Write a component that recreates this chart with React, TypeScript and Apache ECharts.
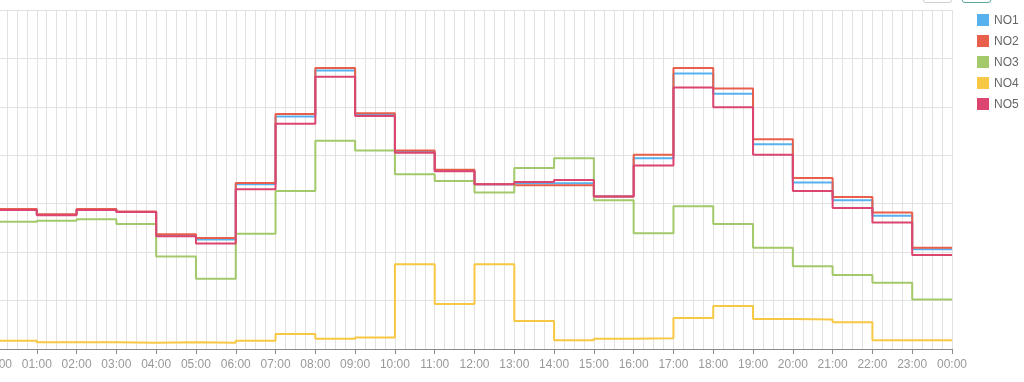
import React, { useEffect, useRef } from "react";
import * as echarts from "echarts";

const hours = [0, 1, 2, 3, 4, 5, 6, 7, 8, 9, 10, 11, 12, 13, 14, 15, 16, 17, 18, 19, 20, 21, 22, 23, 24];

const seriesNames = ["NO1", "NO2", "NO3", "NO4", "NO5"];
const seriesColors = ["#58b1ef", "#e8604c", "#a3c96a", "#f7c844", "#dc4570"];

const no1 = [28.8, 27.7, 28.8, 28.3, 23.5, 22.6, 34.0, 48.0, 57.5, 48.5, 40.7, 36.8, 34.0, 34.2, 34.2, 31.5, 39.4, 56.9, 52.7, 42.3, 34.4, 30.7, 27.5, 20.6];
const no2 = [28.9, 27.8, 28.9, 28.4, 23.7, 22.9, 34.3, 48.5, 58.0, 48.7, 41.0, 37.0, 34.0, 33.8, 33.8, 31.5, 40.1, 58.0, 53.8, 43.3, 35.3, 31.4, 28.2, 20.9];
const no3 = [26.3, 26.5, 26.8, 25.8, 19.1, 14.5, 23.8, 32.6, 43.0, 41.0, 36.1, 34.7, 32.3, 37.4, 39.4, 30.7, 23.9, 29.5, 25.8, 20.9, 17.1, 15.3, 13.7, 10.2];
const no4 = [1.7, 1.4, 1.4, 1.3, 1.4, 1.3, 1.7, 3.1, 2.1, 2.4, 17.5, 9.3, 17.5, 5.8, 1.8, 2.1, 2.2, 6.4, 8.9, 6.2, 6.1, 5.5, 1.8, 1.8];
const no5 = [28.7, 27.6, 28.7, 28.3, 23.3, 21.8, 33.0, 46.5, 56.2, 48.1, 40.5, 36.7, 34.0, 34.5, 34.9, 31.5, 37.9, 54.0, 49.9, 40.1, 32.6, 29.1, 26.1, 19.4];

const allValues = [no1, no2, no3, no4, no5];

function toSteps(values: number[]) {
  return hours.map((h, i) => [h, values[Math.min(i, values.length - 1)]]);
}

export default function App() {
  const ref = useRef<HTMLDivElement>(null);
  useEffect(() => {
    if (!ref.current) return;
    const chart = echarts.init(ref.current, undefined, { renderer: "svg" });
    chart.setOption({
      animation: false,
      textStyle: { fontFamily: "'Liberation Sans', Arial, sans-serif" },
      color: seriesColors,
      grid: {
        left: -3,
        right: 72,
        top: 10,
        bottom: 33,
        containLabel: false,
        outerBoundsMode: "none",
      },
      legend: {
        orient: "vertical",
        left: 972,
        top: 9,
        itemWidth: 12,
        itemHeight: 12,
        itemGap: 9,
        icon: "rect",
        textStyle: { color: "#666", fontSize: 12 },
        data: seriesNames,
      },
      graphic: [
        {
          type: "rect",
          shape: { x: 923, y: -20, width: 29, height: 22.5, r: 3 },
          style: { fill: "#fff", stroke: "#d0d0d0", lineWidth: 1 },
        },
        {
          type: "rect",
          shape: { x: 962, y: -20, width: 29, height: 22.5, r: 3 },
          style: { fill: "#fff", stroke: "#5aa89b", lineWidth: 1 },
        },
      ],
      xAxis: {
        type: "value",
        min: 0,
        max: 24,
        interval: 1,
        axisLine: { show: true, lineStyle: { color: "#8a8a8a" } },
        axisTick: { show: true, length: 5, lineStyle: { color: "#8a8a8a" } },
        axisLabel: {
          color: "#999",
          fontSize: 12,
          margin: 9,
          formatter: (v: number) => {
            const h = Math.round(v) % 24;
            return (h < 10 ? "0" + h : "" + h) + ":00";
          },
        },
        splitLine: { show: true, lineStyle: { color: "#e2e2e2" } },
        minorTick: { show: false, splitNumber: 4 },
        minorSplitLine: { show: true, lineStyle: { color: "#e2e2e2" } },
      },
      yAxis: {
        type: "value",
        min: 0,
        max: 70,
        interval: 10,
        axisLabel: { show: false },
        axisLine: { show: false },
        axisTick: { show: false },
        splitLine: { show: true, lineStyle: { color: "#e2e2e2" } },
      },
      series: seriesNames.map((name, i) => ({
        name,
        type: "line",
        step: "end",
        symbol: "none",
        data: toSteps(allValues[i]),
        lineStyle: { width: 2, color: seriesColors[i] },
        itemStyle: { color: seriesColors[i] },
      })),
    });
    return () => chart.dispose();
  }, []);
  return (
    <div
      ref={ref}
      style={{ position: "fixed", left: 0, top: 0, width: 1024, height: 382 }}
    />
  );
}
